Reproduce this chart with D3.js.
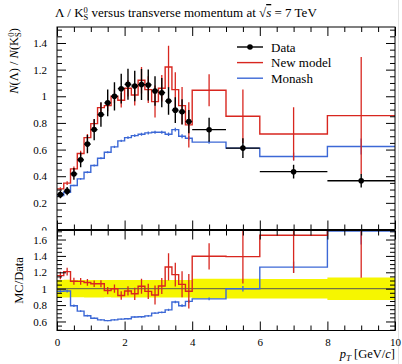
<!DOCTYPE html>
<html>
<head>
<meta charset="utf-8">
<script src="https://cdn.jsdelivr.net/npm/d3@7"></script>
<style>
body { margin: 0; background: #fff; }
text { font-family: "Liberation Serif", "DejaVu Serif", serif; fill: #000; }
</style>
</head>
<body>
<div id="chart"></div>
<script>
  // bins in pT [GeV/c]
  var binEdges = [0, 0.2, 0.4, 0.6, 0.8, 1.0, 1.2, 1.4, 1.6, 1.8, 2.0, 2.2, 2.4, 2.6, 2.8, 3.0,
                  3.2, 3.4, 3.6, 3.8, 4.0, 5, 6, 8, 10];
  var dataVal = [0.263, 0.288, 0.417, 0.523, 0.641, 0.75, 0.863, 0.951, 1.0, 1.057, 1.09, 1.077,
                 1.088, 1.085, 1.04, 1.027, 0.964, 0.896, 0.883, 0.81, 0.749, 0.611, 0.434, 0.366];
  var dataErr = [0.028, 0.031, 0.044, 0.055, 0.068, 0.08, 0.092, 0.1, 0.106, 0.112, 0.116, 0.115,
                 0.116, 0.116, 0.111, 0.11, 0.103, 0.096, 0.094, 0.087, 0.09, 0.074, 0.052, 0.05];
  var newModel = [0.305, 0.348, 0.455, 0.57, 0.69, 0.795, 0.915, 0.93, 1.0, 0.97, 1.06, 1.01,
                  1.12, 1.05, 0.96, 1.06, 1.22, 1.05, 0.93, 0.785, 1.045, 0.85, 0.717, 0.855];
  var newModelErr = [0.012, 0.014, 0.018, 0.022, 0.026, 0.03, 0.036, 0.042, 0.05, 0.055, 0.062, 0.08,
                     0.1, 0.1, 0.12, 0.1, 0.16, 0.13, 0.14, 0.17, 0.12, 0.2, 0.2, 0.44];
  var monash = [0.255, 0.28, 0.33, 0.38, 0.43, 0.48, 0.535, 0.58, 0.62, 0.665, 0.69, 0.705,
                0.715, 0.725, 0.73, 0.73, 0.715, 0.75, 0.70, 0.685, 0.656, 0.611, 0.548, 0.623];
  var monashErr = [0.005, 0.005, 0.006, 0.006, 0.007, 0.007, 0.008, 0.008, 0.009, 0.009, 0.01, 0.01,
                   0.011, 0.011, 0.012, 0.012, 0.013, 0.014, 0.015, 0.016, 0.012, 0.02, 0.03, 0.06];
  var mainTicks = [0, 0.2, 0.4, 0.6, 0.8, 1, 1.2, 1.4];
  var ratioTicks = [0.6, 0.8, 1, 1.2, 1.4, 1.6];
  var xTicks = [0, 2, 4, 6, 8, 10];
  var legendNames = ["Data", "New model", "Monash"];

  var width = 402, height = 364;
  var left = 57, right = 395;
  var mainTop = 27, mainBottom = 229.5;
  var ratioTop = 230.5, ratioBottom = 330.5;
  var red = "#d8261f", blue = "#3c68d6", yellow = "#f6f600";

  var svg = d3.select("#chart").append("svg")
              .attr("width", width)
              .attr("height", height);

  var x = d3.scaleLinear().domain([0, 10]).range([left, right]);
  var y = d3.scaleLinear().domain([0, 1.52]).range([mainBottom, mainTop]);
  var yr = d3.scaleLinear().domain([0.49, 1.71]).range([ratioBottom, ratioTop]);

  var defs = svg.append("defs");
  defs.append("clipPath").attr("id", "clipMain").append("rect")
      .attr("x", left).attr("y", mainTop).attr("width", right - left).attr("height", mainBottom - mainTop);
  defs.append("clipPath").attr("id", "clipRatio").append("rect")
      .attr("x", left).attr("y", ratioTop).attr("width", right - left).attr("height", ratioBottom - ratioTop);
  // main axis labels get cut by the ratio panel (the "0" is half hidden)
  defs.append("clipPath").attr("id", "clipMainLabels").append("rect")
      .attr("x", -left).attr("y", 0).attr("width", left + 20).attr("height", ratioTop);

  // the screenshot has a faint grey edge on the right
  svg.append("line").attr("x1", 398.5).attr("x2", 398.5).attr("y1", 0).attr("y2", height)
     .attr("stroke", "#e2e2e2").attr("stroke-width", 1);

  var bins = dataVal.map(function(v, i) {
    return { lo: binEdges[i], hi: binEdges[i + 1], mid: (binEdges[i] + binEdges[i + 1]) / 2,
             data: v, dataErr: dataErr[i],
             nm: newModel[i], nmErr: newModelErr[i],
             mo: monash[i], moErr: monashErr[i] };
  });

  function stepPoints(vals) {
    var pts = vals.map(function(v, i) { return [binEdges[i], v]; });
    pts.push([binEdges[vals.length], vals[vals.length - 1]]);
    return pts;
  }

  function drawHist(g, ys, vals, errs, color) {
    var line = d3.line()
                 .x(function(d) { return x(d[0]); })
                 .y(function(d) { return ys(d[1]); })
                 .curve(d3.curveStepAfter);
    g.append("path")
     .attr("d", line(stepPoints(vals)))
     .attr("fill", "none")
     .attr("stroke", color)
     .attr("stroke-width", 1.4);
    g.selectAll(null).data(bins).enter().append("line")
     .attr("x1", function(d) { return x(d.mid); })
     .attr("x2", function(d) { return x(d.mid); })
     .attr("y1", function(d, i) { return ys(vals[i] - errs[i]); })
     .attr("y2", function(d, i) { return ys(vals[i] + errs[i]); })
     .attr("stroke", color)
     .attr("stroke-width", 1.3);
  }

  // ---------- main panel ----------
  var gMain = svg.append("g").attr("clip-path", "url(#clipMain)");
  drawHist(gMain, y, monash, monashErr, blue);
  drawHist(gMain, y, newModel, newModelErr, red);

  // data points
  gMain.selectAll(".xerr").data(bins).enter().append("line")
       .attr("x1", function(d) { return x(d.lo); })
       .attr("x2", function(d) { return x(d.hi); })
       .attr("y1", function(d) { return y(d.data); })
       .attr("y2", function(d) { return y(d.data); })
       .attr("stroke", "#000").attr("stroke-width", 1.3);
  gMain.selectAll(".yerr").data(bins).enter().append("line")
       .attr("x1", function(d) { return x(d.mid); })
       .attr("x2", function(d) { return x(d.mid); })
       .attr("y1", function(d) { return y(d.data - d.dataErr); })
       .attr("y2", function(d) { return y(d.data + d.dataErr); })
       .attr("stroke", "#000").attr("stroke-width", 1.4);
  gMain.selectAll("circle").data(bins).enter().append("circle")
       .attr("cx", function(d) { return x(d.mid); })
       .attr("cy", function(d) { return y(d.data); })
       .attr("r", 2.8)
       .attr("fill", "#000");

  // ---------- ratio panel ----------
  var gRatio = svg.append("g").attr("clip-path", "url(#clipRatio)");
  var band = d3.area()
               .x(function(d) { return x(d[0]); })
               .y0(function(d) { return yr(1 - d[1]); })
               .y1(function(d) { return yr(1 + d[1]); })
               .curve(d3.curveStepAfter);
  var relErr = bins.map(function(d) { return d.dataErr / d.data; });
  gRatio.append("path")
        .attr("d", band(stepPoints(relErr)))
        .attr("fill", yellow);
  gRatio.append("line")
        .attr("x1", left).attr("x2", right)
        .attr("y1", yr(1)).attr("y2", yr(1))
        .attr("stroke", "#555").attr("stroke-width", 1);

  var nmRatio = bins.map(function(d) { return d.nm / d.data; });
  var nmRatioErr = bins.map(function(d) { return d.nmErr / d.data; });
  var moRatio = bins.map(function(d) { return d.mo / d.data; });
  var moRatioErr = bins.map(function(d) { return d.moErr / d.data; });
  drawHist(gRatio, yr, moRatio, moRatioErr, blue);
  drawHist(gRatio, yr, nmRatio, nmRatioErr, red);

  // ---------- axes / ticks ----------
  function yTicks(scale, majors, lo, hi, clipId) {
    var minors = d3.range(lo, hi, 0.05).filter(function(v) {
      return !majors.some(function(m) { return Math.abs(m - v) < 1e-6; });
    });
    var gl = svg.append("g").attr("transform", "translate(" + left + ",0)");
    if (clipId) gl.attr("clip-path", "url(#" + clipId + ")");
    gl.call(d3.axisLeft(scale).tickValues(majors).tickSize(-9).tickPadding(10)
              .tickFormat(d3.format("")));
    var gm = svg.append("g").attr("transform", "translate(" + left + ",0)");
    gm.call(d3.axisLeft(scale).tickValues(minors).tickSize(-5).tickFormat(""));
    var gr = svg.append("g").attr("transform", "translate(" + right + ",0)");
    gr.call(d3.axisRight(scale).tickValues(majors).tickSize(-9).tickFormat(""));
    var gr2 = svg.append("g").attr("transform", "translate(" + right + ",0)");
    gr2.call(d3.axisRight(scale).tickValues(minors).tickSize(-5).tickFormat(""));
    [gl, gm, gr, gr2].forEach(function(g) {
      g.select(".domain").remove();
      g.selectAll("line").attr("stroke", "#000").attr("stroke-width", 1);
      g.selectAll("text").style("font-family", "Liberation Serif, serif").style("font-size", "11px");
    });
  }
  yTicks(y, mainTicks, 0, 1.52, "clipMainLabels");
  yTicks(yr, ratioTicks, 0.5, 1.71, null);

  var xMinors = d3.range(0, 10.01, 0.5).filter(function(v) { return xTicks.indexOf(v) < 0; });
  [[mainTop, "top"], [mainBottom, "bottom"], [ratioTop, "top"], [ratioBottom, "bottom"]].forEach(function(p) {
    var ax = p[1] == "top" ? d3.axisTop : d3.axisBottom;
    var labels = p[0] == ratioBottom;
    var g1 = svg.append("g").attr("transform", "translate(0," + p[0] + ")");
    g1.call(ax(x).tickValues(xTicks).tickSize(-9).tickPadding(8)
                 .tickFormat(labels ? d3.format("") : ""));
    var g2 = svg.append("g").attr("transform", "translate(0," + p[0] + ")");
    g2.call(ax(x).tickValues(xMinors).tickSize(-5).tickFormat(""));
    [g1, g2].forEach(function(g) {
      g.select(".domain").remove();
      g.selectAll("line").attr("stroke", "#000").attr("stroke-width", 1);
      g.selectAll("text").style("font-family", "Liberation Serif, serif").style("font-size", "11px");
    });
  });

  // frames
  svg.append("rect").attr("x", left).attr("y", mainTop)
     .attr("width", right - left).attr("height", mainBottom - mainTop)
     .attr("fill", "none").attr("stroke", "#000").attr("stroke-width", 1);
  svg.append("rect").attr("x", left).attr("y", ratioTop)
     .attr("width", right - left).attr("height", ratioBottom - ratioTop)
     .attr("fill", "none").attr("stroke", "#000").attr("stroke-width", 1);

  // ---------- legend ----------
  var legColors = ["#000", red, blue];
  var leg = svg.append("g").attr("transform", "translate(237,47)");
  legendNames.forEach(function(name, i) {
    var ly = i * 15.6;
    leg.append("line").attr("x1", 0).attr("x2", 26).attr("y1", ly).attr("y2", ly)
       .attr("stroke", legColors[i]).attr("stroke-width", 1.4);
    if (i == 0) leg.append("circle").attr("cx", 13).attr("cy", ly).attr("r", 2.8).attr("fill", "#000");
    leg.append("text").attr("x", 34).attr("y", ly + 4.5)
       .style("font-size", "13px").text(name);
  });

  // ---------- titles ----------
  var title = svg.append("text").attr("x", 55).attr("y", 17).style("font-size", "13px");
  title.append("tspan").text("Λ / K");
  title.append("tspan").attr("dy", -4.5).style("font-size", "8.5px").text("0");
  title.append("tspan").attr("dx", -4.3).attr("dy", 7.5).style("font-size", "8.5px").text("S");
  title.append("tspan").attr("dy", -3).text(" versus transverse momentum at √");
  title.append("tspan").style("font-style", "italic").style("text-decoration", "overline").text("s");
  title.append("tspan").text(" = 7 TeV");

  var ylab = svg.append("text")
                .attr("transform", "translate(18," + (mainTop + 1) + ") rotate(-90)")
                .attr("text-anchor", "end")
                .style("font-size", "12.5px");
  ylab.append("tspan").style("font-style", "italic").text("N");
  ylab.append("tspan").text("(Λ) / ");
  ylab.append("tspan").style("font-style", "italic").text("N");
  ylab.append("tspan").text("(K");
  ylab.append("tspan").attr("dy", -4.5).style("font-size", "8.5px").text("0");
  ylab.append("tspan").attr("dx", -4.3).attr("dy", 7.5).style("font-size", "8.5px").text("S");
  ylab.append("tspan").attr("dy", -3).text(")");

  svg.append("text")
     .attr("transform", "translate(23," + ((ratioTop + ratioBottom) / 2) + ") rotate(-90)")
     .attr("text-anchor", "middle")
     .style("font-size", "12.5px")
     .text("MC/Data");

  var xlab = svg.append("text").attr("x", right).attr("y", 358)
                .attr("text-anchor", "end").style("font-size", "12.5px");
  xlab.append("tspan").style("font-style", "italic").text("p");
  xlab.append("tspan").attr("dy", 2.5).style("font-style", "italic").style("font-size", "9px").text("T");
  xlab.append("tspan").attr("dy", -2.5).text(" [GeV/");
  xlab.append("tspan").style("font-style", "italic").text("c");
  xlab.append("tspan").text("]");
</script>
</body>
</html>
